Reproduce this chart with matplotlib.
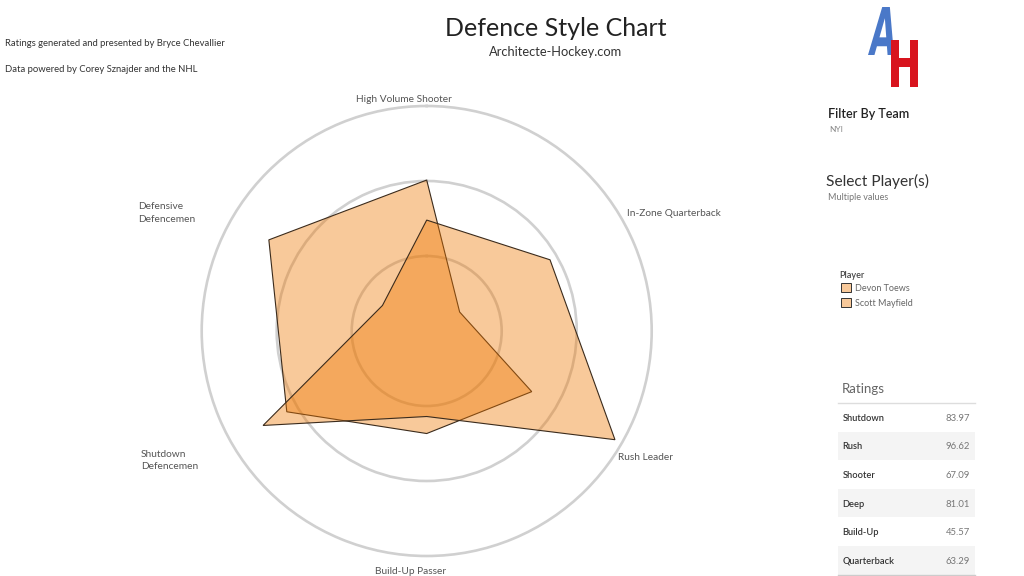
import numpy as np
import matplotlib.pyplot as plt
from matplotlib.patches import Rectangle, PathPatch
from matplotlib.textpath import TextPath
from matplotlib.font_manager import FontProperties
from matplotlib.transforms import Affine2D

plt.rcParams['font.family'] = ['Lato', 'DejaVu Sans']

W, H = 1024, 576

# data
categories = ['High Volume Shooter', 'In-Zone Quarterback', 'Rush Leader',
              'Build-Up Passer', 'Shutdown Defencemen', 'Defensive Defencemen']
players = ['Devon Toews', 'Scott Mayfield']
devon_vals = [67.09, 16.9, 53.9, 45.57, 71.8, 81.01]
scott_vals = [49.3, 63.29, 96.62, 38.0, 83.97, 22.7]
rating_names = ['Shutdown', 'Rush', 'Shooter', 'Deep', 'Build-Up', 'Quarterback']
rating_vals = [83.97, 96.62, 67.09, 81.01, 45.57, 63.29]

fill_col = (238/255, 120/255, 3/255, 0.4)
edge_col = '#3b2b1c'
ring_col = '#d0d0d0'


def fx(x):
    return x / W


def fy(y):
    return 1 - y / H


fig = plt.figure(figsize=(W/100, H/100), dpi=100)
fig.patch.set_facecolor('white')

# radar, centre (426.7, 331) px, radius 225 px
cx, cy, rad = 426.7, 331, 225
ax = fig.add_axes([fx(cx - rad), fy(cy + rad), 2*rad/W, 2*rad/H], projection='polar')
ax.set_theta_zero_location('N')
ax.set_theta_direction(-1)
ax.set_ylim(0, 100)
ax.set_facecolor('none')
ax.set_axisbelow(True)

angles = np.deg2rad(np.arange(0, 360, 60))
ax.set_xticks(angles)
ax.set_xticklabels([])
ax.xaxis.grid(False)
ax.set_yticks([33.33, 66.67])
ax.set_yticklabels([])
ax.yaxis.grid(True, color=ring_col, linewidth=1.9)
ax.spines['polar'].set_color(ring_col)
ax.spines['polar'].set_linewidth(1.9)
ax.tick_params(length=0)

for vals in [devon_vals, scott_vals]:
    th = np.append(angles, angles[0])
    rr = np.append(vals, vals[0])
    ax.fill(th, rr, facecolor=fill_col, edgecolor=edge_col, linewidth=0.8, zorder=3)

# axis labels
lab_kw = dict(fontsize=7.3, color='#555555', va='center')
fig.text(fx(404), fy(99), categories[0], ha='center', **lab_kw)
fig.text(fx(627), fy(213), categories[1], ha='left', **lab_kw)
fig.text(fx(618), fy(457), categories[2], ha='left', **lab_kw)
fig.text(fx(411), fy(571), categories[3], ha='center', **lab_kw)
fig.text(fx(141), fy(460.5), 'Shutdown\nDefencemen', ha='left', linespacing=1.5, **lab_kw)
fig.text(fx(138), fy(213), 'Defensive\nDefencemen', ha='left', linespacing=1.5, **lab_kw)

# title
fig.text(fx(556), fy(28), 'Defence Style Chart', ha='center', va='center', fontsize=18, color='#222222')
fig.text(fx(556), fy(52), 'Architecte-Hockey.com', ha='center', va='center', fontsize=9.3, color='#333333')

fig.text(fx(5), fy(43), 'Ratings generated and presented by Bryce Chevallier', ha='left', va='center',
         fontsize=6.8, color='#333333')
fig.text(fx(5), fy(69), 'Data powered by Corey Sznajder and the NHL', ha='left', va='center',
         fontsize=6.8, color='#333333')


# logo
def glyph(ch, x0, y0, x1, y1, color, skew=0):
    tp = TextPath((0, 0), ch, size=1, prop=FontProperties(family='DejaVu Sans', weight='bold'))
    ext = tp.get_extents()
    tr = (Affine2D().translate(-ext.x0, -ext.y0)
          .scale((x1 - x0) / ext.width, (y1 - y0) / ext.height)
          .skew_deg(skew, 0)
          .translate(x0, H - y1)
          .scale(1 / W, 1 / H))
    fig.add_artist(PathPatch(tr.transform_path(tp), facecolor=color, edgecolor='none',
                             transform=fig.transFigure))


glyph('A', 868, 7, 894, 55, '#4a78c8', skew=6)
glyph('H', 891, 40, 918, 87, '#d8141e', skew=0)

# filters
fig.text(fx(828), fy(114), 'Filter By Team', ha='left', va='center', fontsize=9,
         color='#222222', fontweight='semibold')
fig.text(fx(829), fy(130), 'NYI', ha='left', va='center', fontsize=6, color='#888888')
fig.text(fx(826), fy(181), 'Select Player(s)', ha='left', va='center', fontsize=11.2, color='#333333')
fig.text(fx(828), fy(198), 'Multiple values', ha='left', va='center', fontsize=6.5, color='#777777')

# legend
fig.text(fx(839), fy(275), 'Player', ha='left', va='center', fontsize=6.5, color='#444444',
         fontweight='semibold')
for i, p in enumerate(players):
    y = 287.3 + i * 15.3
    fig.add_artist(Rectangle((fx(841.3), fy(y + 4.7)), 9.4 / W, 9.4 / H, transform=fig.transFigure,
                             facecolor='#f8c99a', edgecolor='#333333', linewidth=0.7))
    fig.text(fx(855), fy(y + 1), p, ha='left', va='center', fontsize=6.5, color='#666666')

# ratings table
fig.text(fx(842), fy(389), 'Ratings', ha='left', va='center', fontsize=9.5, color='#666666')
row_h = 28.6
top = 403
fig.add_artist(plt.Line2D([fx(838), fx(975)], [fy(top), fy(top)], transform=fig.transFigure,
                          color='#dddddd', linewidth=1))
for i, (n, v) in enumerate(zip(rating_names, rating_vals)):
    y0 = top + i * row_h
    if i % 2 == 1:
        fig.add_artist(Rectangle((fx(838), fy(y0 + row_h)), 137 / W, row_h / H,
                                 transform=fig.transFigure, facecolor='#f4f4f4', edgecolor='none'))
    fig.text(fx(842.7), fy(y0 + row_h / 2 + 1), n, ha='left', va='center', fontsize=6.7,
             color='#333333', fontweight='semibold')
    fig.text(fx(970), fy(y0 + row_h / 2 + 1), f'{v:.2f}', ha='right', va='center', fontsize=6.8,
             color='#777777')
bot = top + 6 * row_h
fig.add_artist(plt.Line2D([fx(838), fx(975)], [fy(bot), fy(bot)], transform=fig.transFigure,
                          color='#cccccc', linewidth=1))

fig.savefig('out.png', dpi=100)
